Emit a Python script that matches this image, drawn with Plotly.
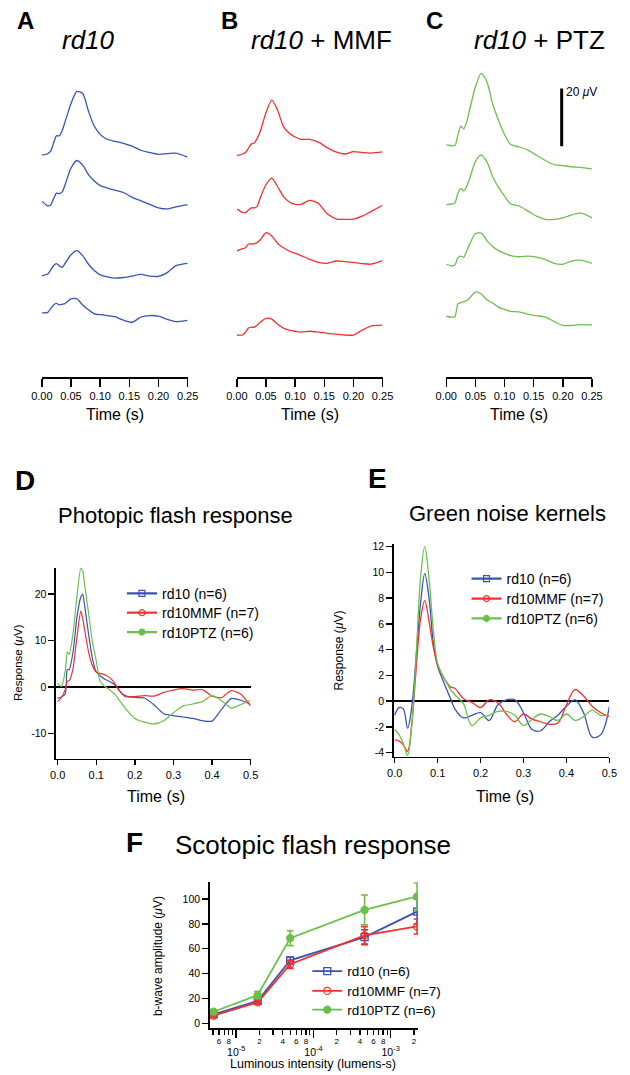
import plotly.graph_objects as go

# ---------------- data ----------------
# A-C: single ERG traces (uV) vs time (s)
t_erg = [0, 0.01, 0.015, 0.02, 0.025, 0.03, 0.035, 0.04, 0.05, 0.06, 0.07, 0.08,
         0.09, 0.10, 0.11, 0.125, 0.14, 0.155, 0.17, 0.185, 0.2, 0.215, 0.23, 0.25]

rd10_erg = [
    [0, 0.5, 1.4, 4.1, 6.7, 6.7, 8.6, 11.7, 17.9, 22.1, 21.4, 15.2, 10.0, 7.2, 5.7, 4.8, 4.1, 3.1, 1.7, 0.9, 0.3, 0.5, 0.7, -0.7],
    [0.6, -1.0, -0.7, 1.4, 3.4, 3.2, 3.8, 6.4, 12.1, 14.7, 13.1, 9.8, 7.6, 6.0, 5.3, 4.4, 3.6, 1.9, 0.7, -0.5, -1.7, -2.1, -1.4, -0.6],
    [-0.1, 0.5, 1.9, 3.4, 4.1, 3.3, 2.8, 4.3, 7.2, 8.6, 6.9, 3.9, 1.7, 0.2, -0.4, -0.9, -0.7, -0.2, 0.4, -0.2, -0.3, 1.0, 3.4, 4.2],
    [0.1, 0.3, 1.6, 2.9, 3.4, 2.9, 3.1, 3.4, 5.0, 5.0, 2.9, 1.2, -0.2, -0.5, -0.7, -1.2, -2.4, -3.1, -1.3, -0.8, -1.0, -2.1, -2.9, -2.5],
]
mmf_erg = [
    [-0.3, 0.3, 0.8, 2.3, 3.8, 4.1, 5.7, 8.0, 14.6, 19.0, 15.5, 9.8, 7.5, 6.2, 5.4, 5.4, 4.4, 2.5, 1.0, 0.3, 1.1, 0.8, 0.6, 1.0],
    [0.2, -1.0, -1.1, -0.2, 0.6, 0.6, 1.1, 4.0, 8.6, 10.9, 7.9, 4.6, 2.6, 1.8, 1.8, 3.2, 2.1, -1.5, -3.2, -3.4, -3.3, -2.3, -0.7, 1.5],
    [0, 0.8, 1.1, 2.4, 2.4, 2.5, 2.9, 3.8, 6.3, 5.2, 2.6, 1.1, -0.1, -0.8, -1.6, -2.9, -4.0, -4.3, -3.5, -3.7, -4.0, -4.4, -4.6, -3.4],
    [-0.3, -0.3, 0.7, 2.1, 2.4, 2.4, 3.1, 4.1, 5.5, 5.2, 3.4, 2.1, 1.4, 1.0, 0.7, 1.0, 0.7, 0.3, 0, -0.3, -0.3, 1.4, 2.8, 3.1],
]
ptz_erg = [
    [0, -0.3, -0.2, 3.4, 6.4, 5.6, 8.0, 12.1, 20.1, 24.8, 21.7, 14.0, 8.3, 3.6, 0.2, -0.7, -1.8, -3.6, -5.4, -6.8, -7.2, -7.6, -7.8, -8.3],
    [0, 0.2, 0.6, 4.0, 5.5, 4.7, 6.3, 8.9, 14.9, 17.2, 14.7, 9.5, 5.9, 2.9, 0.3, -0.5, -2.2, -4.0, -5.1, -5.1, -4.6, -3.6, -2.9, -4.6],
    [0, -0.6, -0.3, 2.3, 2.8, 2.4, 4.6, 6.9, 10.6, 10.8, 8.1, 6.1, 4.7, 3.8, 3.0, 2.6, 2.8, 2.5, 1.6, 0.3, 0, 1.1, 1.4, 0.3],
    [0, -0.3, -0.1, 4.3, 4.7, 5.1, 5.4, 6.3, 8.4, 7.7, 5.7, 4.5, 3.1, 2.4, 1.7, 1.5, 0.7, 0.2, -0.3, -1.8, -3.2, -3.2, -2.9, -3.0],
]

# D: photopic flash response (uV)
t_photopic = [0, 0.01, 0.02, 0.025, 0.03, 0.04, 0.05, 0.06, 0.065, 0.07, 0.08, 0.09, 0.1, 0.11,
              0.125, 0.14, 0.15, 0.16, 0.175, 0.2, 0.225, 0.25, 0.275, 0.3, 0.325, 0.35, 0.375,
              0.4, 0.425, 0.45, 0.475, 0.5]
photopic_rd10 = [-2.5, -2.2, -1.5, 3.7, 3.7, 7.5, 15.0, 19.3, 20.0, 17.5, 11.5, 6.2, 3.2, 2.4, 1.5, 0.9,
                 0.3, -0.8, -1.9, -2.3, -2.4, -3.9, -5.8, -6.2, -6.5, -6.8, -7.3, -7.4, -4.8, -2.5, -2.9, -3.8]
photopic_mmf = [-3.2, -2.3, -0.5, 1.2, 1.3, 4.0, 10.7, 16.3, 14.8, 12.3, 7.6, 4.6, 3.2, 2.9, 2.5, 1.6,
                0.5, -0.8, -2.1, -2.1, -1.9, -2.0, -1.2, -0.7, -0.4, -0.7, -0.6, -2.0, -2.3, -0.8, -1.6, -4.1]
photopic_ptz = [0.7, 0.1, 3.5, 7.5, 7.0, 11.5, 19.5, 25.5, 25.0, 22.0, 16.0, 9.8, 5.6, 1.2, -0.1, -1.0,
                -1.8, -2.9, -4.6, -6.8, -7.6, -8.0, -7.3, -5.6, -4.1, -3.7, -3.2, -1.9, -3.0, -4.6, -3.8, -2.9]

# E: green noise kernels (uV)
t_kernel = [0, 0.01, 0.02, 0.03, 0.04, 0.05, 0.06, 0.07, 0.08, 0.09, 0.1, 0.11, 0.12, 0.13, 0.14,
            0.16, 0.18, 0.2, 0.22, 0.24, 0.26, 0.28, 0.3, 0.32, 0.34, 0.36, 0.38, 0.4, 0.42, 0.44,
            0.46, 0.48, 0.5]
kernel_rd10 = [-1.1, -0.5, -0.6, -2.1, -0.4, 3.5, 7.5, 9.9, 8.0, 4.5, 2.7, 1.8, 1.0, 0.2, -0.6,
               -1.3, -1.1, -0.9, -1.5, -0.3, 0.1, 0.1, -0.9, -2.2, -2.3, -1.6, -1.1, -0.4, 0.1, -0.9,
               -2.8, -2.6, -0.4]
kernel_mmf = [-3.0, -3.1, -3.4, -3.9, -1.7, 2.5, 6.3, 7.8, 6.2, 4.2, 2.8, 2.1, 1.5, 1.1, 1.0,
              0.2, -0.1, -0.5, 0.1, -0.1, -1.0, -1.6, -1.0, -1.4, -1.6, -1.8, -1.7, -0.3, 0.9, 0.4,
              -0.4, -0.9, -1.2]
kernel_ptz = [-2.2, -2.6, -3.3, -4.2, -1.8, 3.5, 9.5, 12.0, 9.5, 5.5, 2.9, 2.1, 1.5, 0.9, 0.5,
              -0.2, -1.9, -1.3, -1.1, -0.8, -0.8, -1.1, -1.9, -1.4, -1.0, -1.2, -1.5, -1.0, -1.5, -1.2,
              -0.7, -1.1, -1.1]

# F: scotopic b-wave amplitude (uV) vs luminous intensity (lumens-s)
luminance = [5.1e-6, 1.9e-5, 5.0e-5, 4.6e-4, 2.2e-3]
bwave_rd10 = [7.2, 18.1, 50.7, 69.3, 89.9]
bwave_rd10_err = [1.0, 1.5, 2.7, 6.0, 10.0]
bwave_mmf = [6.1, 16.8, 47.5, 70.7, 77.9]
bwave_mmf_err = [1.0, 1.5, 3.3, 7.0, 6.0]
bwave_ptz = [9.3, 22.7, 68.5, 91.2, 102.1]
bwave_ptz_err = [1.5, 3.0, 6.0, 12.0, 11.0]

series_names = ["rd10 (n=6)", "rd10MMF (n=7)", "rd10PTZ (n=6)"]
top_time_ticks = [0, 0.05, 0.10, 0.15, 0.20, 0.25]
top_time_labels = ["0.00", "0.05", "0.10", "0.15", "0.20", "0.25"]
de_time_ticks = [0, 0.1, 0.2, 0.3, 0.4, 0.5]
de_time_labels = ["0.0", "0.1", "0.2", "0.3", "0.4", "0.5"]
d_resp_ticks = [-10, 0, 10, 20]
d_resp_labels = ["-10", "0", "10", "20"]
e_resp_ticks = [-4, -2, 0, 2, 4, 6, 8, 10, 12]
e_resp_labels = ["-4", "-2", "0", "2", "4", "6", "8", "10", "12"]
f_amp_ticks = [0, 20, 40, 60, 80, 100]
f_digit_ticks = [6e-6, 8e-6, 2e-5, 4e-5, 6e-5, 8e-5, 2e-4, 4e-4, 6e-4, 8e-4, 2e-3]
f_digit_labels = ["6", "8", "2", "4", "6", "8", "2", "4", "6", "8", "2"]
f_plain_ticks = [5e-6, 7e-6, 9e-6, 3e-5, 5e-5, 7e-5, 9e-5, 3e-4, 5e-4, 7e-4, 9e-4]
f_decades = [1e-5, 1e-4, 1e-3]
f_decade_labels = ["10<sup>-5</sup>", "10<sup>-4</sup>", "10<sup>-3</sup>"]

# ---------------- style / layout ----------------
W, H = 630, 1075
FONT = "Arial, Liberation Sans, Helvetica, sans-serif"
BLUE, RED, GREEN = "#3753b5", "#f2302f", "#6cc04a"
PX_PER_UV = 2.9           # vertical scale of the stacked traces (A-C)
TOP_AXIS_PY = 375         # pixel row of the A-C time axes
TOP_PLOT_TOP = 50


def fx(p):
    return p / W


def fy(p):
    return 1 - p / H


def stack(baseline_px):
    return (TOP_AXIS_PY - baseline_px) / PX_PER_UV


offsets_A = [stack(p) for p in (152, 200, 273, 311)]
offsets_B = [stack(p) for p in (151.7, 206.7, 248.3, 332)]
offsets_C = [stack(p) for p in (141.7, 201.7, 261.7, 314)]

fig = go.Figure()

for xa, traces, offs, col in (("x", rd10_erg, offsets_A, BLUE),
                              ("x2", mmf_erg, offsets_B, RED),
                              ("x3", ptz_erg, offsets_C, GREEN)):
    for vals, off in zip(traces, offs):
        fig.add_trace(go.Scatter(x=t_erg, y=[v + off for v in vals], xaxis=xa, yaxis="y",
                                 mode="lines", line=dict(color=col, width=1.3, shape="spline", smoothing=0.7),
                                 showlegend=False, hoverinfo="skip"))

# D
for vals, col in ((photopic_rd10, BLUE), (photopic_mmf, RED), (photopic_ptz, GREEN)):
    fig.add_trace(go.Scatter(x=t_photopic, y=vals, xaxis="x4", yaxis="y4", mode="lines",
                             line=dict(color=col, width=1.2, shape="spline", smoothing=0.6),
                             showlegend=False, hoverinfo="skip"))
# E
for vals, col in ((kernel_rd10, BLUE), (kernel_mmf, RED), (kernel_ptz, GREEN)):
    fig.add_trace(go.Scatter(x=t_kernel, y=vals, xaxis="x5", yaxis="y5", mode="lines",
                             line=dict(color=col, width=1.3, shape="spline", smoothing=1.0),
                             showlegend=False, hoverinfo="skip"))

symbols = ["square-open", "circle-open", "circle"]
cols = [BLUE, RED, GREEN]

# one legend per entry so the row spacing can follow the reference
legend_specs = {
    "D": dict(xa="x4", ya="y4", x=115, rows=(593, 612.5, 632), size=14),
    "E": dict(xa="x5", ya="y5", x=472, rows=(578.3, 598.3, 618.3), size=14),
    "F": dict(xa="x6", ya="y6", x=307, rows=(972.7, 992.7, 1011.5), size=13.5),
}
legend_layout = {}
lg_index = 1
legend_ids = {}
for panel, spec in legend_specs.items():
    ids = []
    for row in spec["rows"]:
        lid = "legend" if lg_index == 1 else "legend%d" % lg_index
        legend_layout[lid] = dict(x=fx(spec["x"]), y=fy(row), xanchor="left", yanchor="middle",
                                  font=dict(size=spec["size"], color="black"),
                                  bgcolor="rgba(0,0,0,0)", borderwidth=0)
        ids.append(lid)
        lg_index += 1
    legend_ids[panel] = ids

for panel in ("D", "E"):
    spec = legend_specs[panel]
    for name, col, sym, lid in zip(series_names, cols, symbols, legend_ids[panel]):
        fig.add_trace(go.Scatter(x=[None], y=[None], xaxis=spec["xa"], yaxis=spec["ya"],
                                 mode="lines+markers", name=name, legend=lid,
                                 line=dict(color=col, width=2.2),
                                 marker=dict(symbol=sym, size=6, color=col, line=dict(color=col, width=1.2))))

# F
for vals, err, col, sym, name, lid in zip((bwave_rd10, bwave_mmf, bwave_ptz),
                                          (bwave_rd10_err, bwave_mmf_err, bwave_ptz_err),
                                          cols, symbols, series_names, legend_ids["F"]):
    fig.add_trace(go.Scatter(x=luminance, y=vals, xaxis="x6", yaxis="y6", mode="lines+markers",
                             name=name, legend=lid,
                             line=dict(color=col, width=1.8),
                             marker=dict(symbol=sym, size=7, color=col, line=dict(color=col, width=1.3)),
                             error_y=dict(type="data", array=err, color=col, thickness=1.6, width=3.5)))
# invisible trace carrying the decade-label axis
fig.add_trace(go.Scatter(x=f_decades, y=[None] * len(f_decades), xaxis="x7", yaxis="y6",
                         mode="markers", showlegend=False, hoverinfo="skip"))

axis_common = dict(showline=True, linecolor="black", linewidth=1.6, ticks="outside", tickcolor="black",
                   tickwidth=1.4, showgrid=False, zeroline=False, tickfont=dict(size=11, color="black"))

top_x = dict(axis_common, range=[0, 0.25], tickvals=top_time_ticks, ticktext=top_time_labels,
             ticklen=8, linewidth=2, anchor="y")

F_RANGE = [-5.342, -2.646]

layout = dict(
    width=W, height=H, margin=dict(l=0, r=0, t=0, b=0),
    paper_bgcolor="white", plot_bgcolor="white",
    font=dict(family=FONT, color="black"),
    xaxis=dict(top_x, domain=[fx(32), fx(183)]),
    xaxis2=dict(top_x, domain=[fx(234), fx(385)]),
    xaxis3=dict(top_x, domain=[fx(451), fx(602)]),
    yaxis=dict(domain=[fy(TOP_AXIS_PY), fy(TOP_PLOT_TOP)],
               range=[0, (TOP_AXIS_PY - TOP_PLOT_TOP) / PX_PER_UV], visible=False),
    xaxis4=dict(axis_common, domain=[fx(46.7), fx(248.3)], range=[-0.004, 0.5], anchor="y4",
                tickvals=de_time_ticks, ticktext=de_time_labels, ticklen=5),
    yaxis4=dict(axis_common, domain=[fy(759), fy(566.7)], range=[-15.5, 25.7], anchor="x4",
                tickvals=d_resp_ticks, ticktext=d_resp_labels, ticklen=6,
                zeroline=True, zerolinecolor="black", zerolinewidth=1.5, tickfont=dict(size=10.5, color="black")),
    xaxis5=dict(axis_common, domain=[fx(396.7), fx(620)], range=[-0.002, 0.5], anchor="y5",
                tickvals=de_time_ticks, ticktext=de_time_labels, ticklen=5),
    yaxis5=dict(axis_common, domain=[fy(757), fy(543.3)], range=[-4.32, 12.18], anchor="x5",
                tickvals=e_resp_ticks, ticktext=e_resp_labels, ticklen=6,
                zeroline=True, zerolinecolor="black", zerolinewidth=1.5, tickfont=dict(size=10.5, color="black")),
    xaxis6=dict(axis_common, type="log", domain=[fx(206), fx(421.7)], range=F_RANGE, anchor="y6",
                tickvals=f_digit_ticks, ticktext=f_digit_labels, ticklen=5,
                tickfont=dict(size=8, color="black"),
                minor=dict(tickmode="array", tickvals=f_plain_ticks, ticks="outside", ticklen=5,
                           tickwidth=1.2, tickcolor="black")),
    xaxis7=dict(type="log", overlaying="x6", anchor="y6", range=F_RANGE, side="bottom",
                tickvals=f_decades, ticktext=f_decade_labels, ticks="outside", ticklen=9, tickwidth=1.6,
                tickcolor="black", showticklabels=True, ticklabelstandoff=5,
                tickfont=dict(size=10.5, color="black"),
                showline=False, showgrid=False, zeroline=False),
    yaxis6=dict(axis_common, domain=[fy(1030), fy(883.3)], range=[-4, 113.4], anchor="x6",
                tickvals=f_amp_ticks, ticklen=6, tickfont=dict(size=10.5, color="black")),
)
layout.update(legend_layout)
fig.update_layout(**layout)

# scale bar (20 uV) in panel C
fig.add_shape(type="line", xref="x3", yref="y", x0=0.198, x1=0.198, y0=80, y1=100,
              line=dict(color="black", width=3))

annotations = []


def txt(text, px, py, size, bold=False, angle=0, xanchor="center", yanchor="middle"):
    if bold:
        text = "<b>" + text + "</b>"
    annotations.append(dict(text=text, x=fx(px), y=fy(py), xref="paper", yref="paper",
                            xanchor=xanchor, yanchor=yanchor, showarrow=False, textangle=angle,
                            font=dict(size=size, family=FONT, color="black")))


txt("A", 15.5, 1.5, 24, bold=True, yanchor="top")
txt("B", 226, 1.5, 24, bold=True, yanchor="top")
txt("C", 438.5, 1.5, 24, bold=True, yanchor="top")
txt("<i>rd10</i>", 80, 36, 26)
txt("<i>rd10</i> + MMF", 322, 36, 26)
txt("<i>rd10</i> + PTZ", 548, 36, 26)
for cx in (107.5, 309.5, 526.5):
    txt("Time (s)", cx, 413, 16)
txt("20 <i>μ</i>V", 573, 88, 12, xanchor="left")

txt("D", 14.5, 479, 28, bold=True)
txt("E", 380, 477.5, 28, bold=True)
txt("F", 127.5, 843.5, 28, bold=True)
txt("Photopic flash response", 170, 514, 22)
txt("Green noise kernels", 514, 512, 22)
txt("Scotopic flash response", 313, 846, 26)
txt("Time (s)", 150, 797, 16)
txt("Time (s)", 512, 797, 16)
txt("Response (<i>μ</i>V)", 8, 662, 11.5, angle=-90)
txt("Response (<i>μ</i>V)", 340, 650, 12, angle=-90)
txt("b-wave amplitude (<i>μ</i>V)", 151.7, 957, 12, angle=-90)
txt("Luminous intensity (lumens-s)", 313, 1066, 12.5)

fig.update_layout(annotations=annotations)
# the page's default 8px body margin would shift the 630x1075 figure; remove it
fig.write_html("out.html", config={"displayModeBar": False, "staticPlot": True},
               post_script="document.body.style.margin='0px';")
